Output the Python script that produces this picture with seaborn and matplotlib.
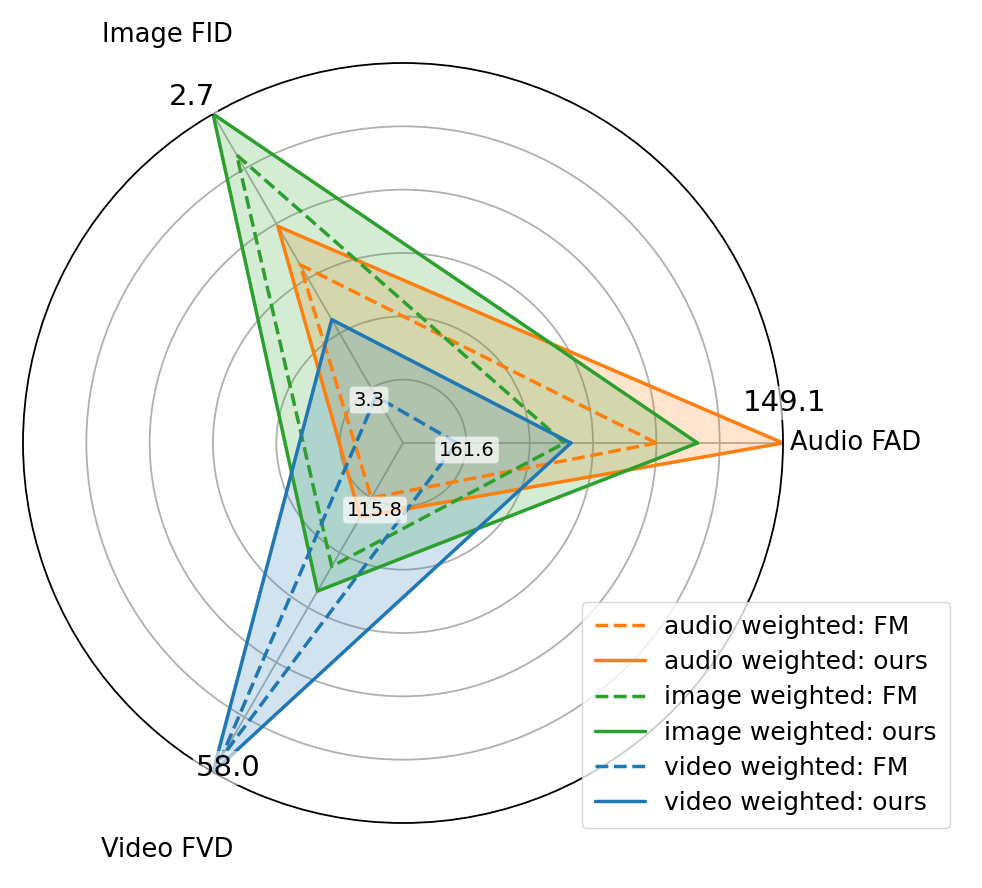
import numpy as np
import matplotlib
matplotlib.use("Agg")
import matplotlib.pyplot as plt
import seaborn as sns

sns.set_style("white")
plt.rcParams["font.family"] = ["DejaVu Sans"]
plt.rcParams["text.color"] = "black"

# axes and raw endpoint values (worst near centre, best at rim)
axis_names = ["Audio FAD", "Image FID", "Video FVD"]
worst_vals = ["161.6", "3.3", "115.8"]
best_vals = ["149.1", "2.7", "58.0"]

# normalised scores (rim = 1.2), order: audio, image, video
audio_fm = [0.80, 0.65, 0.20]
audio_ours = [1.20, 0.79, 0.27]
image_fm = [0.51, 1.05, 0.45]
image_ours = [0.93, 1.20, 0.54]
video_fm = [0.17, 0.17, 1.15]
video_ours = [0.53, 0.45, 1.20]

series = [
    ("audio weighted: FM", audio_fm, "#ff7f0e", "--", False),
    ("audio weighted: ours", audio_ours, "#ff7f0e", "-", True),
    ("image weighted: FM", image_fm, "#2ca02c", "--", False),
    ("image weighted: ours", image_ours, "#2ca02c", "-", True),
    ("video weighted: FM", video_fm, "#1f77b4", "--", False),
    ("video weighted: ours", video_ours, "#1f77b4", "-", True),
]

angles = np.deg2rad([0, 120, 240])
closed = np.append(angles, angles[0])

fig = plt.figure(figsize=(9.82, 8.88), dpi=100)
ax = fig.add_axes([23 / 982, 65 / 888, 760 / 982, 760 / 888], projection="polar")

for label, vals, color, ls, fill in series:
    v = np.append(vals, vals[0])
    ax.plot(closed, v, color=color, linestyle=ls, linewidth=2.5, label=label)
    if fill:
        ax.fill(closed, v, color=color, alpha=0.2)

ax.set_ylim(0, 1.2)
ax.set_yticks([0.2, 0.4, 0.6, 0.8, 1.0])
ax.set_yticklabels([])
ax.set_xticks(angles)
ax.set_xticklabels([])
ax.grid(True, color="#b0b0b0", linewidth=1.3)
ax.spines["polar"].set_linewidth(1.3)
ax.spines["polar"].set_color("black")

# axis names
fig.text(790 / 982, 1 - 443 / 888, axis_names[0], fontsize=18.5, ha="left", va="center")
fig.text(167 / 982, 1 - 35 / 888, axis_names[1], fontsize=18.5, ha="center", va="center")
fig.text(167 / 982, 1 - 850 / 888, axis_names[2], fontsize=18.5, ha="center", va="center")

# best values at the rim
best_pos = [(785, 403), (192, 97), (228, 768)]
for txt, (px, py) in zip(best_vals, best_pos):
    fig.text(px / 982, 1 - py / 888, txt, fontsize=21, ha="center", va="center",
             bbox=dict(boxstyle="round,pad=0.1", fc="white", ec="none", alpha=0.6))

# worst values near the centre
worst_pos = [(467, 450), (369, 400), (375, 510)]
for txt, (px, py) in zip(worst_vals, worst_pos):
    fig.text(px / 982, 1 - py / 888, txt, fontsize=14, ha="center", va="center",
             bbox=dict(boxstyle="round,pad=0.2", fc="white", ec="none", alpha=0.7))

fig.legend(loc="lower right", bbox_to_anchor=(962 / 982, 1 - 840 / 888),
           fontsize=18, frameon=True, handlelength=2.0, borderpad=0.5,
           labelspacing=0.45, labelcolor="black")

fig.savefig("out.png", dpi=100)
